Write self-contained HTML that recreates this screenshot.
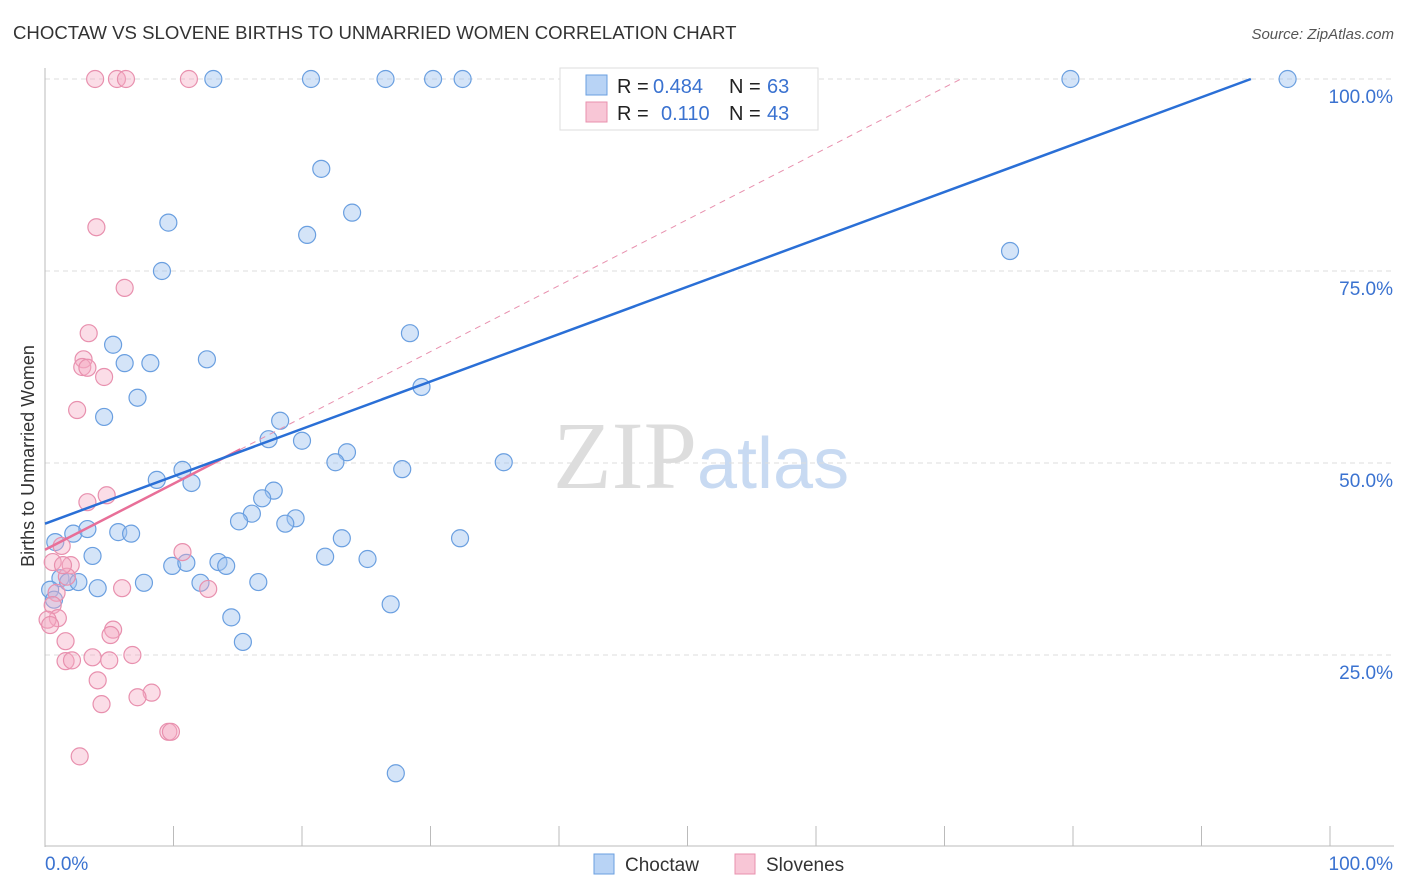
<!DOCTYPE html>
<html><head><meta charset="utf-8"><style>
body{margin:0;background:#fff;font-family:"Liberation Sans",sans-serif}
</style></head><body>
<svg id="chart" width="1406" height="892" xmlns="http://www.w3.org/2000/svg" style="display:block">
<text x="13" y="39" font-size="18.6" fill="#333">CHOCTAW VS SLOVENE BIRTHS TO UNMARRIED WOMEN CORRELATION CHART</text>
<text x="1394" y="39" font-size="15" fill="#555" text-anchor="end" font-style="italic">Source: ZipAtlas.com</text>
<text x="553" y="488" font-size="96" font-family="Liberation Serif" fill="#ddd">ZIP<tspan font-family="Liberation Sans" fill="#c8daf2" font-size="72">atlas</tspan></text>
<g id="grid"></g>
<g id="axes"></g>
<g id="marks"></g>
<text transform="translate(34,456) rotate(-90)" font-size="18" fill="#333" text-anchor="middle">Births to Unmarried Women</text>
<g>
<rect x="560" y="68" width="258" height="62" fill="#fff" stroke="#ddd"/>
<rect x="586" y="75" width="21" height="20" fill="#b8d3f5" stroke="#6a9fe0"/>
<rect x="586" y="102" width="21" height="20" fill="#f8c6d6" stroke="#e890ae"/>
<text x="617" y="93" font-size="20" fill="#222">R =</text>
<text x="653" y="93" font-size="20" fill="#3a72d0">0.484</text>
<text x="729" y="93" font-size="20" fill="#222">N =</text>
<text x="767" y="93" font-size="20" fill="#3a72d0">63</text>
<text x="617" y="120" font-size="20" fill="#222">R =</text>
<text x="661" y="120" font-size="20" fill="#3a72d0">0.110</text>
<text x="729" y="120" font-size="20" fill="#222">N =</text>
<text x="767" y="120" font-size="20" fill="#3a72d0">43</text>
</g>
<g>
<rect x="594" y="854" width="20" height="20" fill="#b8d3f5" stroke="#6a9fe0"/>
<text x="625" y="871" font-size="19" fill="#333">Choctaw</text>
<rect x="735" y="854" width="20" height="20" fill="#f8c6d6" stroke="#e890ae"/>
<text x="766" y="871" font-size="19" fill="#333">Slovenes</text>
</g>
</svg>
<script>
const yTicks=[25,50,75,100];
const yTickLabels=["25.0%","50.0%","75.0%","100.0%"];
const choctawX=[13.1,20.7,26.5,30.2,32.5,79.8,96.7,21.5,23.9,9.6,20.4,9.1,75.1,28.4,5.3,12.6,6.2,8.2,29.3,7.2,4.6,18.3,17.4,20.0,23.5,22.6,35.7,10.7,27.8,11.4,8.7,17.8,16.9,16.1,19.5,15.1,18.7,32.3,5.7,6.7,2.2,3.3,0.8,23.1,21.8,25.1,3.7,13.5,14.1,9.9,11.0,1.2,1.8,2.6,7.7,12.1,16.6,4.1,26.9,14.5,15.4,27.3,0.4,0.7];
const choctawY=[100,100,100,100,100,100,100,88.3,82.6,81.3,79.7,75.0,77.6,66.9,65.4,63.5,63.0,63.0,59.9,58.5,56.0,55.5,53.1,52.9,51.4,50.1,50.1,49.1,49.2,47.4,47.8,46.4,45.4,43.4,42.8,42.4,42.1,40.2,41.0,40.8,40.8,41.4,39.7,40.2,37.8,37.5,37.9,37.1,36.6,36.6,37.0,35.0,34.5,34.5,34.4,34.4,34.5,33.7,31.6,29.9,26.7,9.6,33.5,32.2];
const sloveneX=[3.9,5.6,6.3,11.2,4.0,6.2,3.4,3.0,2.9,3.3,4.6,2.5,3.3,4.8,1.3,0.6,2.0,1.7,0.9,0.6,1.0,0.2,0.4,10.7,12.7,6.0,5.3,5.1,1.6,3.7,5.0,6.8,1.6,2.1,4.1,8.3,7.2,4.4,9.6,9.8,2.7,1.4];
const sloveneY=[100,100,100,100,80.7,72.8,66.9,63.5,62.5,62.4,61.2,56.9,44.9,45.8,39.2,37.1,36.7,35.2,33.1,31.5,29.8,29.6,28.9,38.4,33.6,33.7,28.3,27.6,26.8,24.7,24.3,25.0,24.2,24.3,21.7,20.1,19.5,18.6,15.0,15.0,11.8,36.7];
const choctawTrend=[42.1,0.617];
const sloveneTrend=[38.7,0.86];
const NS="http://www.w3.org/2000/svg";
const sx=v=>45+v*12.85, sy=v=>847-v*7.68;
function mk(t,a,p){const e=document.createElementNS(NS,t);for(const k in a)e.setAttribute(k,a[k]);p.appendChild(e);return e;}
const grid=document.getElementById('grid'),axes=document.getElementById('axes'),marks=document.getElementById('marks');
yTicks.forEach((t,i)=>{
 const l=mk('line',{x1:45,x2:1394,y1:sy(t),y2:sy(t),stroke:'#ddd','stroke-dasharray':'5,4'},grid);
 
 
 const tx=mk('text',{x:1393,y:sy(t)+24,'font-size':19,fill:'#3a72d0','text-anchor':'end'},axes);
 tx.textContent=yTickLabels[i];
 
 
});
mk('line',{x1:45,x2:45,y1:68,y2:847,stroke:'#bbb'},axes);
mk('line',{x1:45,x2:1394,y1:846,y2:846,stroke:'#bbb'},axes);
for(let i=1;i<=10;i++){const t=mk('line',{x1:sx(i*10),x2:sx(i*10),y1:826,y2:846,stroke:'#bbb'},axes);
 
 }
const x0=mk('text',{x:45,y:870,'font-size':19,fill:'#3a72d0'},axes);x0.textContent='0.0%';


const x1=mk('text',{x:1393,y:870,'font-size':19,fill:'#3a72d0','text-anchor':'end'},axes);x1.textContent='100.0%';


function pts(X,Y,fill,stroke,name){X.forEach((x,i)=>{const c=mk('circle',{cx:sx(x),cy:sy(Y[i]),r:8.5,fill:fill,stroke:stroke,'stroke-width':1.2},marks);
 
 });}
pts(choctawX,choctawY,'rgba(160,196,240,0.45)','#6a9fe0','choctaw-point');
pts(sloveneX,sloveneY,'rgba(245,170,195,0.4)','#e890ae','slovenes-point');
const pxEnd=(100-sloveneTrend[0])/sloveneTrend[1];
const pd=mk('line',{x1:sx(15.2),y1:sy(sloveneTrend[0]+sloveneTrend[1]*15.2),x2:sx(pxEnd),y2:sy(100),stroke:'#e890ae','stroke-dasharray':'6,5','stroke-width':1},marks);


const ps=mk('line',{x1:sx(0),y1:sy(sloveneTrend[0]),x2:sx(15.2),y2:sy(sloveneTrend[0]+sloveneTrend[1]*15.2),stroke:'#e86f98','stroke-width':2.5},marks);


const bEnd=(100-choctawTrend[0])/choctawTrend[1];
const bl=mk('line',{x1:sx(0),y1:sy(choctawTrend[0]),x2:sx(bEnd),y2:sy(100),stroke:'#2a6fd6','stroke-width':2.5},marks);


</script>
</body></html>
